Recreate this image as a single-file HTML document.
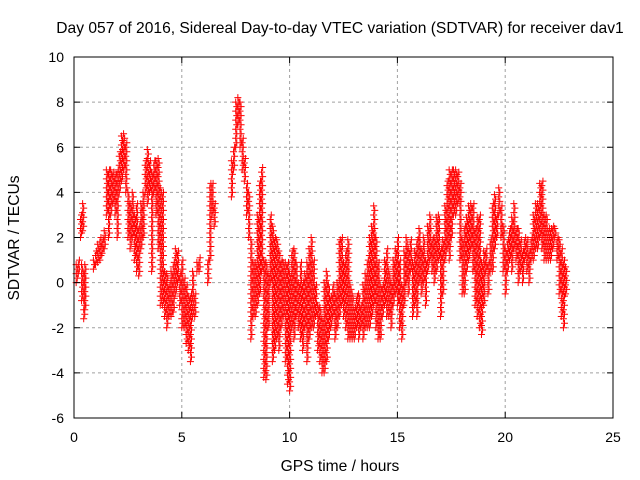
<!DOCTYPE html>
<html><head><meta charset="utf-8"><style>
html,body{margin:0;padding:0;background:#fff;}
svg{display:block;font-family:"Liberation Sans",sans-serif;}
</style></head><body>
<svg id="chart" width="640" height="480">
<text x="340" y="33" font-size="15.6" text-anchor="middle">Day 057 of 2016, Sidereal Day-to-day VTEC variation (SDTVAR) for receiver dav1</text>
<text x="340" y="471" font-size="15.6" text-anchor="middle">GPS time / hours</text>
<text transform="translate(19,238) rotate(-90)" font-size="15.6" text-anchor="middle">SDTVAR / TECUs</text>
<g id="grid"></g>
<g id="marks"></g>
<rect x="74" y="57" width="539" height="361" fill="none" stroke="#000" stroke-width="1"/>
<g id="ticks"></g>
</svg>
<script>
const xTicks=[0,5,10,15,20,25];
const yTicks=[-6,-4,-2,0,2,4,6,8,10];
const times=[0.1,0.2,0.3,0.35,0.4,0.45,0.5,0.9,1.0,1.1,1.2,1.3,1.4,1.5,1.6,1.7,1.8,1.9,2.0,2.1,2.2,2.3,2.4,2.5,2.6,2.7,2.8,2.9,3.0,3.1,3.2,3.3,3.4,3.5,3.6,3.7,3.8,3.9,4.0,4.1,4.2,4.3,4.4,4.5,4.6,4.7,4.8,4.9,5.0,5.1,5.2,5.3,5.4,5.5,5.6,5.7,5.8,6.2,6.3,6.4,6.5,7.3,7.4,7.5,7.6,7.7,7.8,7.9,8.0,8.1,8.2,8.3,8.4,8.5,8.6,8.7,8.8,8.9,9.0,9.1,9.2,9.3,9.4,9.5,9.6,9.7,9.8,9.9,10.0,10.1,10.2,10.3,10.4,10.5,10.6,10.7,10.8,10.9,11.0,11.1,11.2,11.3,11.4,11.5,11.6,11.7,11.8,11.9,12.0,12.1,12.2,12.3,12.4,12.5,12.6,12.7,12.8,12.9,13.0,13.1,13.2,13.3,13.4,13.5,13.6,13.7,13.8,13.9,14.0,14.1,14.2,14.3,14.4,14.5,14.6,14.7,14.8,14.9,15.0,15.1,15.2,15.3,15.4,15.5,15.6,15.7,15.8,15.9,16.0,16.1,16.2,16.3,16.4,16.5,16.6,16.7,16.8,16.9,17.0,17.1,17.2,17.3,17.4,17.5,17.6,17.7,17.8,17.9,18.0,18.1,18.2,18.3,18.4,18.5,18.6,18.7,18.8,18.9,19.0,19.1,19.2,19.3,19.4,19.5,19.6,19.7,19.8,19.9,20.0,20.1,20.2,20.3,20.4,20.5,20.6,20.7,20.8,20.9,21.0,21.1,21.2,21.3,21.4,21.5,21.6,21.7,21.8,21.9,22.0,22.1,22.2,22.3,22.4,22.5,22.6,22.7,22.8];
const lows=[0,0.4,2,-0.8,2.3,-1.6,-1.2,0.6,0.8,0.9,1.0,1.3,1.5,3,2.0,3,3.5,3,2.0,4,4.5,5,4,2,1.5,2,1,0.5,0.3,1.5,2,4,3.5,4,0.5,4,3,1.5,-1,-1,-1.5,-2,-1.5,-1.5,-1.3,-0.5,0,-1,-2,-2,-2.7,-3,-3.5,-1.5,-1.5,0.5,0.5,0,1,3,2.5,3.8,5,6,7,6,5,4.5,3,2,-2.5,-1.5,-1.5,-1,-0.5,0.5,-4.2,-4.3,-2,0,-3.5,-3,-2.5,-3,-2,-1.5,-3.5,-4.5,-4.8,-2,-2.5,-1.5,-2,-2.5,-3,-2,-3.5,-2.5,-2,-2,-1.5,-3,-3.5,-4,-4,-3.5,-2.5,-2,-1.5,-2.5,-2,-1.5,-1,-1.5,-2,-2.5,-2.5,-2.5,-2.5,-2,-2.5,-2,-2.5,-2,-2,-2,-1.5,-1,-2,-2.5,-2.5,-1.5,-1,-1.5,-1.5,-2,-1,-0.5,-1,-2,-2.5,-1,0,-0.5,0.5,-1.5,-1,-1.5,0,-0.5,0,-1,0.5,1,0.5,0,0.5,1,-1.5,-0.5,1,1.5,1,2,3,3,3.5,1,-0.5,-0.5,0.5,1,1.5,0.5,-1,-1.5,-2,-2.3,-1,0.5,-0.5,0.5,0.5,1.5,2,3,2,0.5,-0.5,0.5,1,0.5,1.5,1,0,0.5,0,1,0.5,0,1,1,1.5,1.5,2,1.5,1,1,1,1,1.5,2,1,-0.5,-1.5,-2,-0.5];
const highs=[0.9,1,3,0.8,3.5,0.5,0.9,1,1.5,1.7,2.1,1.9,2.4,5,5,5,5,4.8,5,5.8,6.5,6.7,6.2,4,3.5,4,3,3.5,2.5,3.5,4,5.5,6,5.5,5,5.5,5.5,5.5,4.2,4,0.5,0.5,0,0.5,1,1.5,1.5,0.5,1,0.2,0,-0.5,-0.5,0.5,-0.5,1,1.2,1,4.5,4.5,3.5,5.5,6,8,8.2,8,6.5,5.5,4.5,4,2,1,1,3,4.5,5.2,1,1,0.5,3,2.5,2,2,1.5,1,1,1,1,0.5,1.5,1.5,1,0,1,0,0.5,1,1.5,2,1,0,-1,-1,-1.5,0,0.5,0,-0.5,0,-0.5,0,2,2,1,1.5,2,0,-0.5,-1,-0.5,-0.5,-1,0,0.5,1,2,2.5,3.5,2,1,0,0,1,1.5,0.5,0,1,1.5,2,1,0,1.5,2,1.5,2,1,1.5,2,2.5,1.5,2,1,2.5,3,2,2,3,3,1.5,2,3.5,4.5,5,5,5,5,5,4.5,2,2.5,3,3.5,3.5,3.5,2.5,3,3,1,1.5,1.5,1,2,3.5,4,3,4.2,3.5,2.5,1.5,2,2.5,3,3.5,2.5,2.5,2,1.5,2,2,1.5,2,3,3.5,3.5,4.5,4.5,3,3,2.5,2.5,2.5,2.5,2,2,1.5,1,0.8];
const NS='http://www.w3.org/2000/svg';
const L=74,R=613,T=57,B=418;
function xs(t){return L+(t-0)/(25-0)*(R-L);}
function ys(v){return B-(v+6)/(10+6)*(B-T);}
const grid=document.getElementById('grid'),ticks=document.getElementById('ticks'),marks=document.getElementById('marks');
function mk(tag,attrs,parent){const e=document.createElementNS(NS,tag);for(const k in attrs)e.setAttribute(k,attrs[k]);parent.appendChild(e);return e;}
xTicks.forEach(v=>{const x=xs(v);
 if(v>0&&v<25){const g=mk('line',{x1:x,x2:x,y1:T,y2:B,stroke:'#a0a0a0','stroke-dasharray':'3,3'},grid);
 
 }
 mk('line',{x1:x,x2:x,y1:B,y2:B-6,stroke:'#000'},ticks);mk('line',{x1:x,x2:x,y1:T,y2:T+6,stroke:'#000'},ticks);
 const t=mk('text',{x:x,y:B+24,'font-size':14,'text-anchor':'middle'},ticks);t.textContent=v;
 
 });
yTicks.forEach(v=>{const y=ys(v);
 if(v>-6&&v<10){const g=mk('line',{x1:L,x2:R,y1:y,y2:y,stroke:'#a0a0a0','stroke-dasharray':'3,3'},grid);
 
 }
 mk('line',{x1:L,x2:L+6,y1:y,y2:y,stroke:'#000'},ticks);mk('line',{x1:R,x2:R-6,y1:y,y2:y,stroke:'#000'},ticks);
 const t=mk('text',{x:L-10,y:y+5,'font-size':14,'text-anchor':'end'},ticks);t.textContent=v;
 
 });
let d='';
times.forEach((t,i)=>{const lo=lows[i],hi=highs[i];
 for(let k=0;k<2;k++){const tx=xs(t+k*0.05);
  for(let v=lo+k*0.2;v<=hi+0.001;v+=0.4){const y=ys(v);d+=`M${tx-3.5},${y}h7M${tx},${y-3.5}v7`;}}});
const p=mk('path',{d:d,stroke:'#ff0000','stroke-width':1,fill:'none'},marks);


</script>
</body></html>
